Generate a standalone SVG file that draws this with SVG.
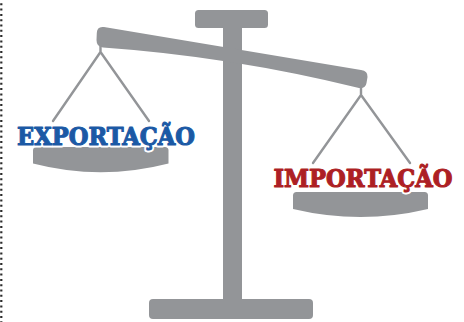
<svg xmlns="http://www.w3.org/2000/svg" width="464" height="322" viewBox="0 0 464 322">
  <style>
    .metal { fill: #939598; }
    .cord { stroke: #939598; stroke-width: 2.4; fill: none; stroke-linecap: round; stroke-linejoin: round; }
    .label { font-family: "DejaVu Serif", "Liberation Serif", serif; font-weight: bold; font-size: 23.5px;
             stroke-linejoin: round; }
    .halo { fill: #ffffff; stroke: #ffffff; stroke-width: 5; }
    .exp { fill: #1b59a5; stroke: #1b59a5; stroke-width: 1.1; }
    .imp { fill: #ad1f24; stroke: #ad1f24; stroke-width: 1.1; }
  </style>
  <rect width="464" height="322" fill="#ffffff"/>

  <!-- dotted margin on the left edge -->
  <line x1="1.3" y1="3.3" x2="1.3" y2="322" stroke="#2b2b2b" stroke-width="2.2" stroke-dasharray="2 3.3"/>

  <!-- scale frame: cap, post, base -->
  <g id="stand">
    <rect class="metal" x="195" y="10" width="73" height="18" rx="3.5"/>
    <rect class="metal" x="223" y="20" width="19" height="284"/>
    <rect class="metal" x="149" y="299" width="164" height="20" rx="4"/>
  </g>

  <!-- tilted beam -->
  <g id="beam">
    <path class="metal" d="M 104 27 L 361 70 Q 368 71 367.5 77 L 366.5 83 Q 365.5 89 359 88 Q 231 56.5 103 47.5 Q 96.5 47 96.5 40 L 96.8 33 Q 97 26 104 27 Z"/>
  </g>

  <!-- hanging cords -->
  <g id="cords">
    <path class="cord" d="M 100.5 46 L 100.5 52 L 53 121 M 100.5 52 L 149 121"/>
    <path class="cord" d="M 361 87 L 361 95 L 313 163 M 361 95 L 410 163"/>
  </g>

  <!-- left pan -->
  <g id="pan-left">
    <path class="metal" d="M 36.5 147 L 165 147 Q 168.5 147 168.5 150.5 L 168.5 163.5 Q 100.7 181 33 163.5 L 33 150.5 Q 33 147 36.5 147 Z"/>
    <text class="label halo" x="17" y="144.5" textLength="178" lengthAdjust="spacingAndGlyphs">EXPORTAÇÃO</text>
    <text class="label exp" x="17" y="144.5" textLength="178" lengthAdjust="spacingAndGlyphs">EXPORTAÇÃO</text>
  </g>

  <!-- right pan -->
  <g id="pan-right">
    <path class="metal" d="M 296.5 192 L 424.5 192 Q 428 192 428 195.5 L 428 209 Q 360.5 225 293 209 L 293 195.5 Q 293 192 296.5 192 Z"/>
    <text class="label halo" x="273.5" y="187" textLength="179" lengthAdjust="spacingAndGlyphs">IMPORTAÇÃO</text>
    <text class="label imp" x="273.5" y="187" textLength="179" lengthAdjust="spacingAndGlyphs">IMPORTAÇÃO</text>
  </g>
</svg>
